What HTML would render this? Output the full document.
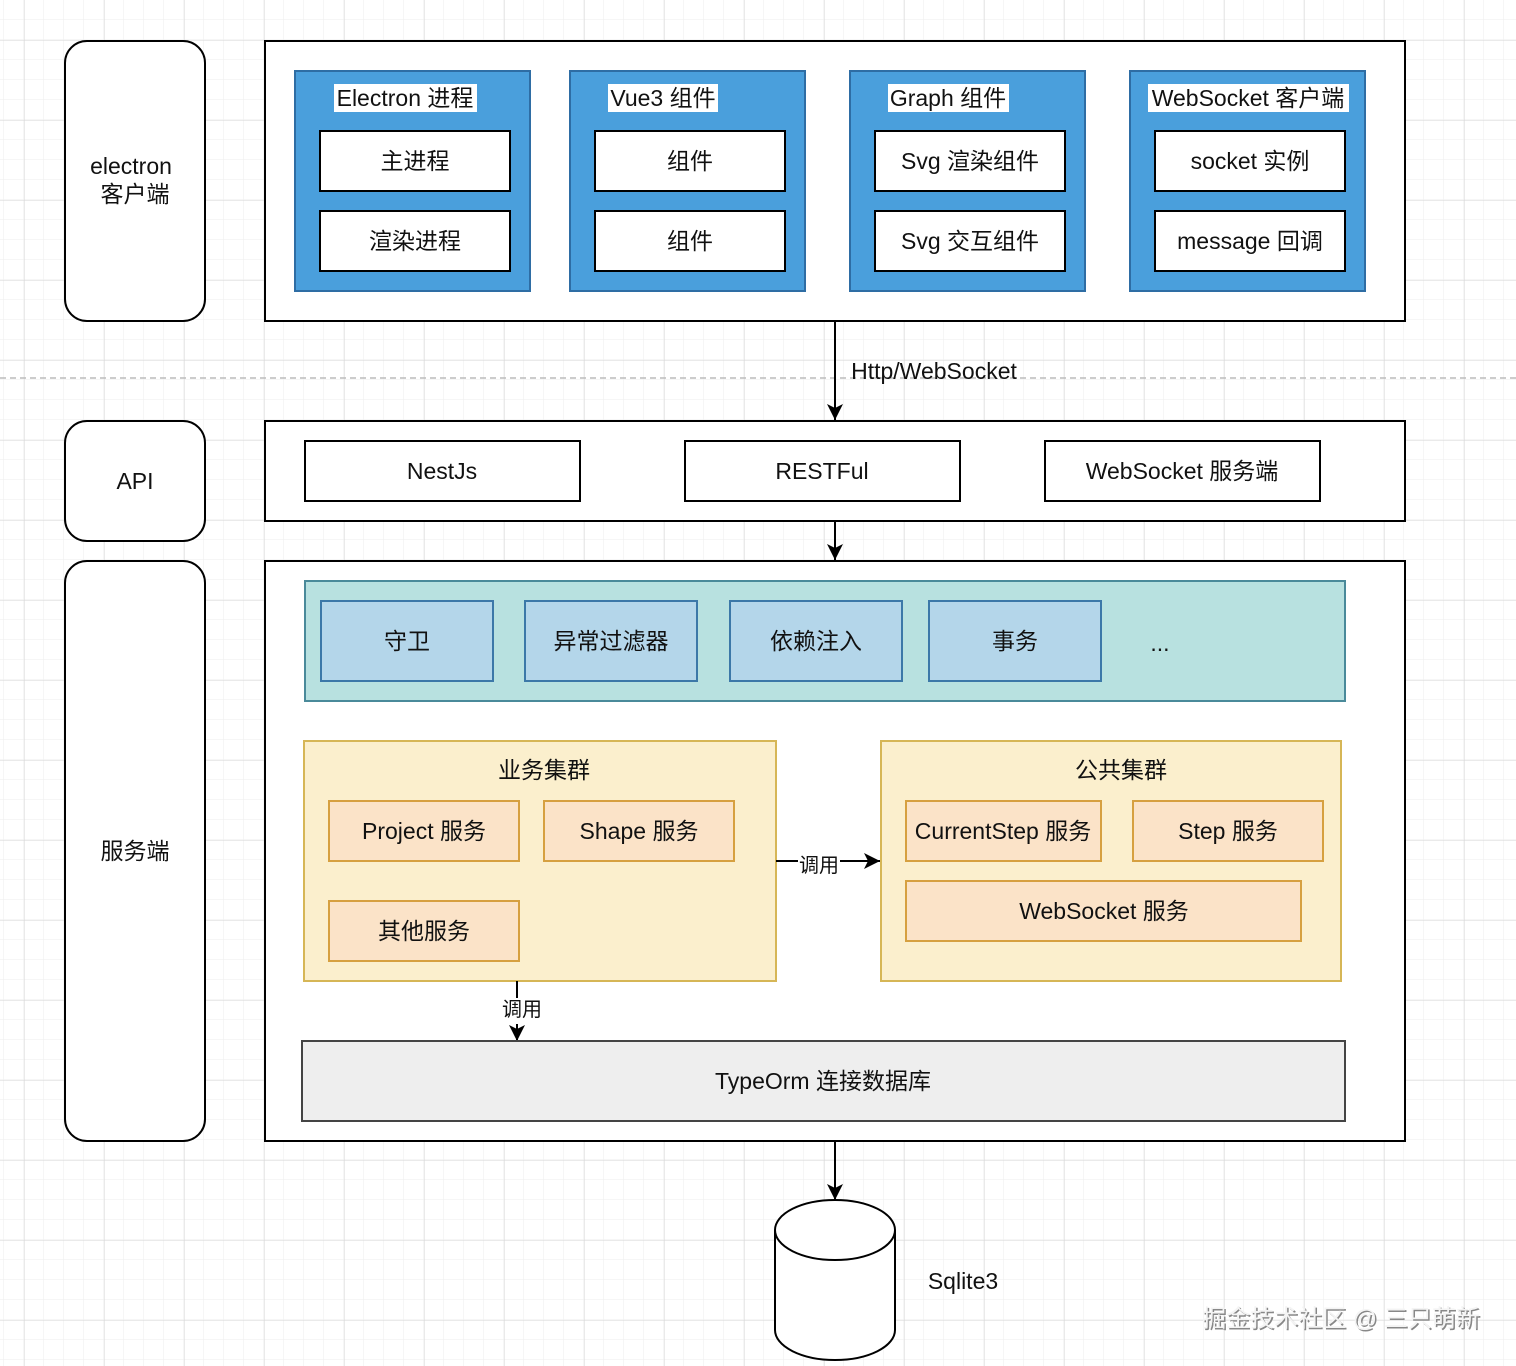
<!DOCTYPE html>
<html><head><meta charset="utf-8"><style>
body{margin:0;width:1516px;height:1366px;overflow:hidden;background:#fff}
svg{display:block}
text{font-family:"Liberation Sans","Noto Sans CJK SC",sans-serif;font-size:23px;fill:#111;text-anchor:middle;dominant-baseline:central}
</style></head><body>
<svg width="1516" height="1366" viewBox="0 0 1516 1366">
<defs>
<pattern id="minor" width="20" height="20" patternUnits="userSpaceOnUse" x="4" y="0"><path d="M20 0V20M0 20H20" fill="none" stroke="#eeeeee" stroke-width="1"/></pattern>
<pattern id="major" width="80" height="80" patternUnits="userSpaceOnUse" x="24" y="40"><path d="M0 0V80M0 0H80" fill="none" stroke="#d6d6d6" stroke-width="1"/></pattern>
<marker id="ar2" markerWidth="18" markerHeight="18" refX="16" refY="8" orient="auto" markerUnits="userSpaceOnUse"><path d="M0 0L16 8L0 16L4 8Z" fill="#000"/></marker>
</defs>
<rect width="1516" height="1366" fill="url(#minor)"/>
<rect width="1516" height="1366" fill="url(#major)"/>
<line x1="0" y1="378" x2="1516" y2="378" stroke="#bbb" stroke-width="1.5" stroke-dasharray="6 4"/>

<g stroke="#000" stroke-width="2" fill="#fff">
<rect x="65" y="41" width="140" height="280" rx="22"/>
<rect x="65" y="421" width="140" height="120" rx="22"/>
<rect x="65" y="561" width="140" height="580" rx="22"/>
<rect x="265" y="41" width="1140" height="280"/>
<rect x="265" y="421" width="1140" height="100"/>
<rect x="265" y="561" width="1140" height="580"/>
</g>
<text x="131" y="166">electron</text><text x="135" y="194">客户端</text>
<text x="135" y="481">API</text>
<text x="135" y="851">服务端</text>

<g stroke="#2e6da4" stroke-width="2" fill="#4a9fdc">
<rect x="295" y="71" width="235" height="220"/><rect x="570" y="71" width="235" height="220"/>
<rect x="850" y="71" width="235" height="220"/><rect x="1130" y="71" width="235" height="220"/>
</g>
<g fill="#fff">
<rect x="334" y="84" width="143" height="28"/><rect x="608" y="84" width="110" height="28"/>
<rect x="888" y="84" width="121" height="28"/><rect x="1148" y="84" width="201" height="28"/>
</g>
<text x="405" y="98">Electron 进程</text><text x="663" y="98">Vue3 组件</text>
<text x="948" y="98">Graph 组件</text><text x="1248" y="98">WebSocket 客户端</text>
<g stroke="#000" stroke-width="2" fill="#fff">
<rect x="320" y="131" width="190" height="60"/><rect x="320" y="211" width="190" height="60"/>
<rect x="595" y="131" width="190" height="60"/><rect x="595" y="211" width="190" height="60"/>
<rect x="875" y="131" width="190" height="60"/><rect x="875" y="211" width="190" height="60"/>
<rect x="1155" y="131" width="190" height="60"/><rect x="1155" y="211" width="190" height="60"/>
<rect x="305" y="441" width="275" height="60"/><rect x="685" y="441" width="275" height="60"/><rect x="1045" y="441" width="275" height="60"/>
</g>
<text x="415" y="161">主进程</text><text x="415" y="241">渲染进程</text>
<text x="690" y="161">组件</text><text x="690" y="241">组件</text>
<text x="970" y="161">Svg 渲染组件</text><text x="970" y="241">Svg 交互组件</text>
<text x="1250" y="161">socket 实例</text><text x="1250" y="241">message 回调</text>
<text x="442" y="471">NestJs</text><text x="822" y="471">RESTFul</text><text x="1182" y="471">WebSocket 服务端</text>

<line x1="835" y1="321" x2="835" y2="420" stroke="#000" stroke-width="2" marker-end="url(#ar2)"/>
<text x="934" y="371">Http/WebSocket</text>
<line x1="835" y1="521" x2="835" y2="560" stroke="#000" stroke-width="2" marker-end="url(#ar2)"/>

<rect x="305" y="581" width="1040" height="120" fill="#b8e1e0" stroke="#4a8a9a" stroke-width="2"/>
<g stroke="#3c78a8" stroke-width="2" fill="#b4d6ea">
<rect x="321" y="601" width="172" height="80"/><rect x="525" y="601" width="172" height="80"/>
<rect x="730" y="601" width="172" height="80"/><rect x="929" y="601" width="172" height="80"/>
</g>
<text x="407" y="641">守卫</text><text x="611" y="641">异常过滤器</text><text x="816" y="641">依赖注入</text><text x="1015" y="641">事务</text>
<text x="1160" y="643">...</text>

<g stroke="#d6b656" stroke-width="2" fill="#fbefcd">
<rect x="304" y="741" width="472" height="240"/><rect x="881" y="741" width="460" height="240"/>
</g>
<g stroke="#d6a040" stroke-width="2" fill="#fbe3c8">
<rect x="329" y="801" width="190" height="60"/><rect x="544" y="801" width="190" height="60"/>
<rect x="329" y="901" width="190" height="60"/>
<rect x="906" y="801" width="195" height="60"/><rect x="1133" y="801" width="190" height="60"/>
<rect x="906" y="881" width="395" height="60"/>
</g>
<text x="544" y="770">业务集群</text><text x="1121" y="770">公共集群</text>
<text x="424" y="831">Project 服务</text><text x="639" y="831">Shape 服务</text><text x="424" y="931">其他服务</text>
<text x="1003" y="831">CurrentStep 服务</text><text x="1228" y="831">Step 服务</text><text x="1104" y="911">WebSocket 服务</text>

<line x1="776" y1="861" x2="880" y2="861" stroke="#000" stroke-width="2" marker-end="url(#ar2)"/>
<rect x="798" y="852" width="42" height="26" fill="#fff"/>
<text x="819" y="866" style="font-size:20px">调用</text>
<line x1="517" y1="981" x2="517" y2="1041" stroke="#000" stroke-width="2" marker-end="url(#ar2)"/>
<rect x="500" y="998" width="44" height="26" fill="#fff"/>
<text x="522" y="1010" style="font-size:20px">调用</text>

<rect x="302" y="1041" width="1043" height="80" fill="#eeeeee" stroke="#444" stroke-width="2"/>
<text x="823" y="1081">TypeOrm 连接数据库</text>

<line x1="835" y1="1141" x2="835" y2="1200" stroke="#000" stroke-width="2" marker-end="url(#ar2)"/>
<path d="M775 1230 V1330 A60 30 0 0 0 895 1330 V1230" fill="#fff" stroke="#000" stroke-width="2"/>
<ellipse cx="835" cy="1230" rx="60" ry="30" fill="#fff" stroke="#000" stroke-width="2"/>
<text x="963" y="1281">Sqlite3</text>

<text x="1341" y="1319" style="font-size:24px;fill:#888" transform="translate(1.5,1.5)">掘金技术社区 @ 三只萌新</text>
<text x="1341" y="1319" style="font-size:24px;fill:#f4f4f4">掘金技术社区 @ 三只萌新</text>
</svg>
</body></html>
